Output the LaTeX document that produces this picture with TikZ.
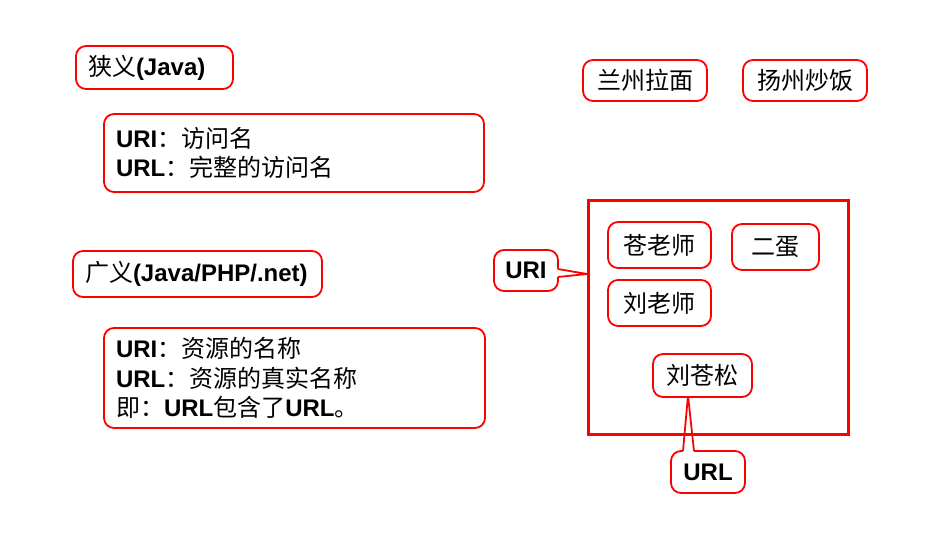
\documentclass[tikz,border=0pt]{standalone}
\usepackage{fontspec}
\setmainfont{Liberation Sans}
\newfontfamily\cjk{Noto Sans CJK SC}
\newcommand\zh[1]{{\cjk\mdseries #1}}
\begin{document}
\begin{tikzpicture}[x=1pt,y=-1pt,
  rb/.style={draw=red,line width=1.8pt,rounded corners=10pt,fill=white,inner ysep=0pt,
    font=\fontsize{24}{29.5}\selectfont\bfseries},
  lbox/.style={rb,align=left,inner xsep=12pt},
  cbox/.style={rb,align=center,inner xsep=0pt},
  co/.style={draw=red,line width=1.8pt,line join=round},
  sq/.style={draw=red,line width=3pt,inner sep=0pt}]
\useasboundingbox (0,0) rectangle (945,545);
% left side
\node[lbox,text width=133pt,minimum height=43pt] (n1) at (154.5,67.5) {\zh{狭义}(Java)};
\node[lbox,text width=356pt,minimum height=78pt] (n2) at (294,153) {URI\zh{：访问名}\\URL\zh{：完整的访问名}};
\node[lbox,text width=225pt,minimum height=46pt] (n3) at (197.5,274) {\zh{广义}(Java/PHP/.net)};
\node[lbox,text width=357pt,minimum height=100pt] (n4) at (294.5,378) {URI\zh{：资源的名称}\\URL\zh{：资源的真实名称}\\\zh{即：}URL\zh{包含了}URL\zh{。}};
% top right
\node[cbox,text width=124pt,minimum height=41pt] (lz) at (645,80.5) {\zh{兰州拉面}};
\node[cbox,text width=124pt,minimum height=41pt] (yz) at (805,80.5) {\zh{扬州炒饭}};
% URL callout
\node[cbox,text width=74pt,minimum height=42pt] (url) at (708,472) {URL};
\coordinate (lT) at (688,395.5);
\fill[white] ([xshift=-25pt,yshift=-3pt]url.north) -- (lT) -- ([xshift=-14pt,yshift=-3pt]url.north) -- cycle;
\draw[co] ([xshift=-25pt,yshift=-1pt]url.north) -- (lT) -- ([xshift=-14pt,yshift=-1pt]url.north);
% square
\node[sq,minimum width=260pt,minimum height=233pt] (sq) at (718,317.5) {};
\node[cbox,text width=103pt,minimum height=46pt] (c1) at (659.5,245) {\zh{苍老师}};
\node[cbox,text width=87pt,minimum height=46pt] (c2) at (775.5,247) {\zh{二蛋}};
\node[cbox,text width=103pt,minimum height=46pt] (c3) at (659.5,303) {\zh{刘老师}};
\node[cbox,text width=99pt,minimum height=43pt] (c4) at (702.5,375.5) {\zh{刘苍松}};
% URI callout
\node[cbox,text width=64pt,minimum height=41pt] (uri) at (526,270.5) {URI};
\coordinate (uT) at (587,274);
\fill[white] ([xshift=-3pt,yshift=1.5pt]uri.east) -- (uT) -- ([xshift=-3pt,yshift=-6.5pt]uri.east) -- cycle;
\draw[co] ([xshift=-1pt,yshift=1.5pt]uri.east) -- (uT) -- ([xshift=-1pt,yshift=-6.5pt]uri.east);
\end{tikzpicture}
\end{document}
